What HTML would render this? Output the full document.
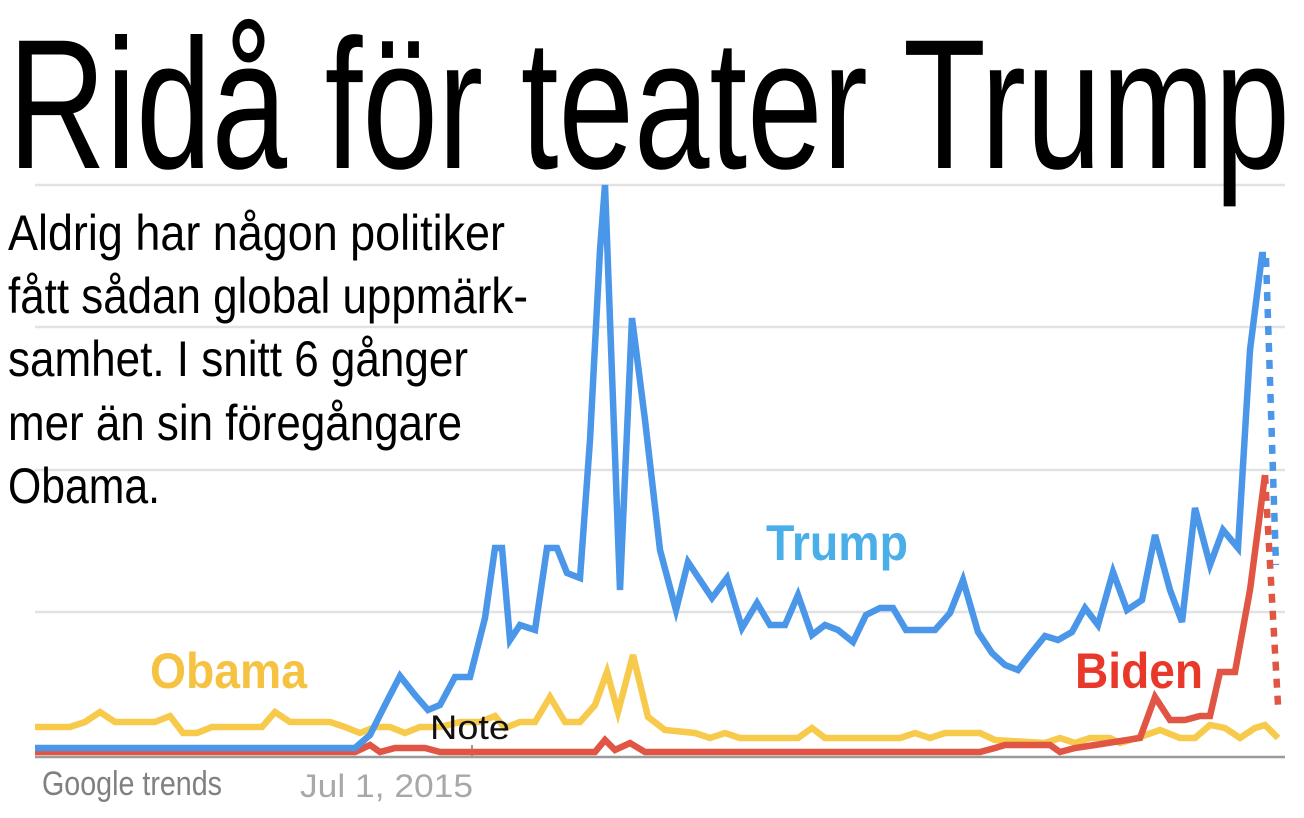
<!DOCTYPE html>
<html><head><meta charset="utf-8"><style>
html,body{margin:0;padding:0;background:#fff;}
svg{display:block;}
</style></head><body>
<svg width="1304" height="818" viewBox="0 0 1304 818" xmlns="http://www.w3.org/2000/svg" font-family="Liberation Sans, sans-serif">
<rect width="1304" height="818" fill="#fff"/>
<g stroke="#e2e2e2" stroke-width="2.5">
<line x1="35" y1="185" x2="1285" y2="185"/>
<line x1="35" y1="327" x2="1285" y2="327"/>
<line x1="35" y1="470" x2="1285" y2="470"/>
<line x1="35" y1="612" x2="1285" y2="612"/>
</g>
<line x1="35" y1="757" x2="1285" y2="757" stroke="#9a9a9a" stroke-width="2.5"/>
<line x1="472" y1="745" x2="472" y2="757" stroke="#9a9a9a" stroke-width="2"/>
<g fill="none" stroke-width="6.5" stroke-linejoin="miter">
<polyline stroke="#f7ca4c" points="35,727 70,727 85,722 100,712 115,722 155,722 170,716 183,733 197,733 212,727 262,727 275,712 290,722 330,722 345,727 360,733 375,727 390,727 405,733 420,727 440,727 460,722 480,722 495,716 505,728 520,722 535,722 550,697 565,722 580,722 595,705 607,672 618,712 633,655 648,717 665,730 695,733 710,738 725,733 740,738 798,738 812,728 825,738 900,738 915,733 930,738 945,733 980,733 995,740 1045,743 1060,738 1075,743 1090,738 1110,738 1120,743 1140,737 1160,730 1180,738 1195,738 1210,725 1225,728 1240,738 1255,728 1265,725 1278,738"/>
<polyline stroke="#e05544" points="35,752 355,752 370,745 380,752 395,748 425,748 440,752 595,752 605,740 615,750 630,743 645,752 960,752 980,752 995,748 1005,745 1050,745 1060,752 1075,748 1095,745 1140,738 1155,697 1170,720 1185,720 1200,716 1210,716 1220,672 1235,672 1250,590 1265,475"/>
<line x1="1265" y1="475" x2="1278" y2="705" stroke="#e05544" stroke-dasharray="9,8"/>
<polyline stroke="#4a96e8" points="35,748 355,748 370,735 385,705 400,676 415,695 428,710 440,705 455,677 470,677 485,618 495,548 502,548 510,640 520,625 535,630 547,548 557,548 567,573 580,578 590,440 600,250 605,185 620,590 632,318 645,420 660,550 676,610 688,562 700,580 712,598 727,578 742,628 757,603 770,625 785,625 798,595 812,635 825,625 838,630 853,642 866,615 880,608 893,608 906,630 920,630 935,630 950,613 963,580 978,632 992,653 1005,665 1018,670 1032,652 1045,636 1058,640 1072,632 1085,608 1098,625 1113,572 1127,610 1142,600 1155,535 1170,590 1182,622 1195,508 1210,565 1223,530 1238,548 1250,350 1262,255 1266,255"/>
<line x1="1266" y1="258" x2="1276" y2="565" stroke="#4a96e8" stroke-dasharray="9,8"/>
</g>
<text x="8" y="168" font-size="185" textLength="1282" lengthAdjust="spacingAndGlyphs" fill="#000">Ridå för teater Trump</text>
<g font-size="50" fill="#000">
<text x="8" y="250" textLength="497" lengthAdjust="spacingAndGlyphs">Aldrig har någon politiker</text>
<text x="8" y="313" textLength="520" lengthAdjust="spacingAndGlyphs">fått sådan global uppmärk-</text>
<text x="8" y="376" textLength="460" lengthAdjust="spacingAndGlyphs">samhet. I snitt 6 gånger</text>
<text x="8" y="440" textLength="454" lengthAdjust="spacingAndGlyphs">mer än sin föregångare</text>
<text x="8" y="503" textLength="152" lengthAdjust="spacingAndGlyphs">Obama.</text>
</g>
<g font-size="50" font-weight="bold">
<text x="766" y="560" fill="#4aaee8" textLength="142" lengthAdjust="spacingAndGlyphs">Trump</text>
<text x="150" y="688" fill="#f5c242" textLength="157" lengthAdjust="spacingAndGlyphs">Obama</text>
<text x="1075" y="688" fill="#e8382a" textLength="128" lengthAdjust="spacingAndGlyphs">Biden</text>
</g>
<text x="430" y="739" font-size="34" fill="#111" textLength="80" lengthAdjust="spacingAndGlyphs">Note</text>
<text x="42" y="795" font-size="34" fill="#808080" textLength="180" lengthAdjust="spacingAndGlyphs">Google trends</text>
<text x="300" y="797" font-size="32" fill="#a8a8a8" textLength="173" lengthAdjust="spacingAndGlyphs">Jul 1, 2015</text>
</svg>
</body></html>
